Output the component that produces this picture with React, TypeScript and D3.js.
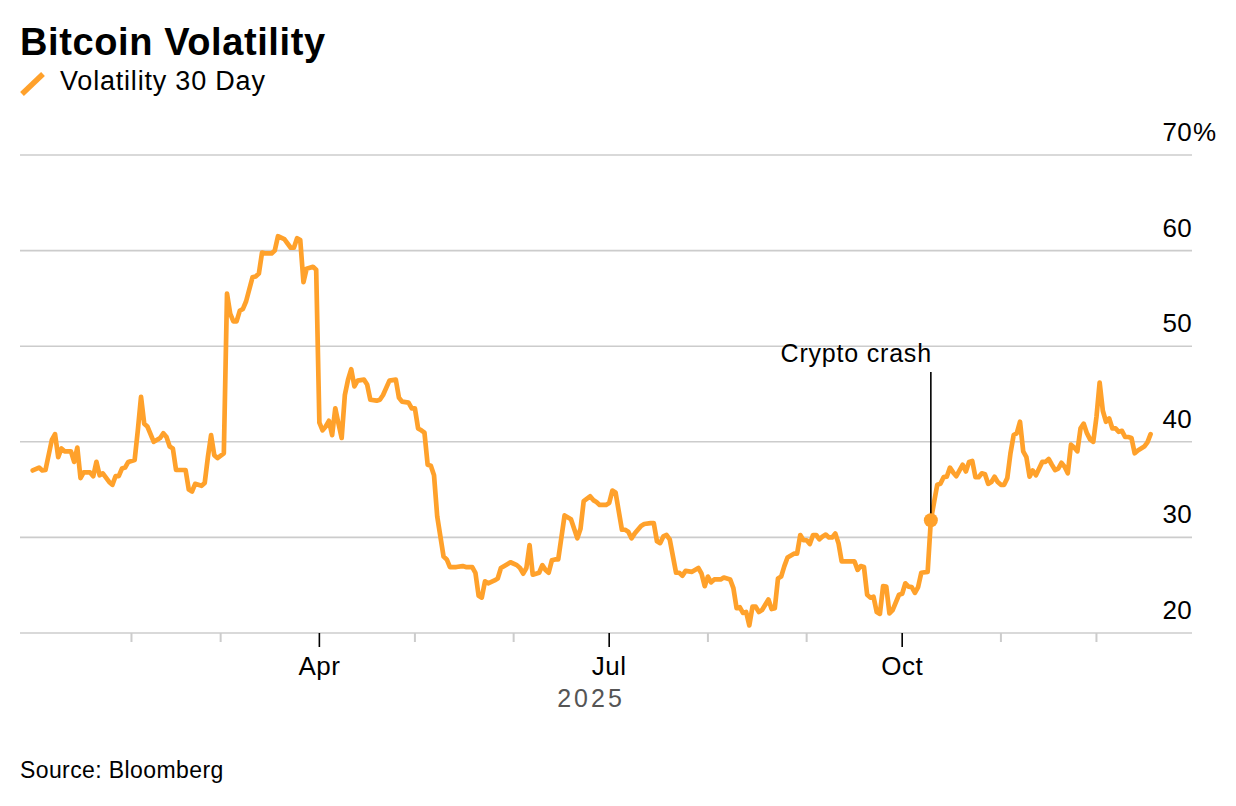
import React from 'react';
import * as d3 from 'd3';

// Bitcoin 30-day volatility, 2025 (%)
const dates = [
  '01-01', '01-03', '01-04', '01-05', '01-07', '01-08', '01-09', '01-10', '01-11', '01-13', '01-14', '01-15', '01-16',
  '01-17', '01-19', '01-20', '01-21', '01-22', '01-23', '01-25', '01-26', '01-27', '01-28', '01-29', '01-30', '01-31',
  '02-02', '02-03', '02-04', '02-05', '02-06', '02-08', '02-10', '02-11', '02-12', '02-13', '02-14', '02-15', '02-17',
  '02-18', '02-19', '02-20', '02-21', '02-23', '02-24', '02-25', '02-26', '02-27', '02-28',
  '03-02', '03-03', '03-04', '03-05', '03-06', '03-07', '03-08', '03-09', '03-11', '03-12', '03-13', '03-14', '03-15',
  '03-17', '03-18', '03-19', '03-21', '03-23', '03-24', '03-25', '03-26', '03-27', '03-28', '03-30', '03-31',
  '04-01', '04-02', '04-03', '04-04', '04-05', '04-06', '04-07', '04-08', '04-09', '04-10', '04-11', '04-12', '04-13',
  '04-15', '04-16', '04-17', '04-19', '04-20', '04-21', '04-23', '04-25', '04-26', '04-27', '04-29', '04-30',
  '05-01', '05-02', '05-03', '05-04', '05-05', '05-06', '05-07', '05-08', '05-10', '05-11', '05-12', '05-14', '05-16',
  '05-17', '05-19', '05-20', '05-21', '05-22', '05-23', '05-24', '05-26', '05-27', '05-28', '05-30', '05-31',
  '06-02', '06-03', '06-04', '06-05', '06-06', '06-07', '06-08', '06-09', '06-10', '06-11', '06-12', '06-13', '06-14',
  '06-15', '06-17', '06-19', '06-21', '06-22', '06-23', '06-25', '06-26', '06-27', '06-28', '06-30',
  '07-01', '07-02', '07-03', '07-05', '07-06', '07-07', '07-08', '07-09', '07-11', '07-12', '07-14', '07-15', '07-16',
  '07-17', '07-18', '07-19', '07-20', '07-22', '07-23', '07-24', '07-25', '07-27', '07-29', '07-30', '07-31',
  '08-01', '08-02', '08-03', '08-05', '08-06', '08-08', '08-09', '08-10', '08-11', '08-12', '08-13', '08-14', '08-15',
  '08-16', '08-17', '08-18', '08-20', '08-21', '08-22', '08-23', '08-24', '08-25', '08-26', '08-28', '08-29', '08-30', '08-31',
  '09-01', '09-02', '09-03', '09-04', '09-05', '09-06', '09-07', '09-08', '09-09', '09-10', '09-11', '09-12', '09-14',
  '09-16', '09-17', '09-18', '09-19', '09-20', '09-21', '09-22', '09-23', '09-24', '09-25', '09-26', '09-27', '09-28', '09-30',
  '10-01', '10-02', '10-03', '10-04', '10-05', '10-06', '10-07', '10-09', '10-10', '10-12', '10-13', '10-14', '10-15',
  '10-16', '10-17', '10-18', '10-19', '10-20', '10-21', '10-22', '10-23', '10-24', '10-25', '10-26', '10-27', '10-28',
  '10-29', '10-30', '10-31',
  '11-01', '11-02', '11-03', '11-04', '11-05', '11-06', '11-07', '11-08', '11-09', '11-10', '11-11', '11-12', '11-13',
  '11-14', '11-15', '11-16', '11-17', '11-18', '11-19', '11-20', '11-21', '11-22', '11-23', '11-24', '11-25', '11-26',
  '11-27', '11-28', '11-29', '11-30',
  '12-01', '12-02', '12-03', '12-04', '12-05', '12-06', '12-07', '12-08', '12-09', '12-10', '12-11', '12-12', '12-13',
  '12-14', '12-16', '12-17', '12-18',
];

const vol30 = [
  37.0, 37.3, 37.0, 37.05, 40.2, 40.8, 38.4, 39.3, 39.0, 39.0, 37.9, 39.4, 36.2,
  36.8, 36.8, 36.4, 37.9, 36.5, 36.7, 35.8, 35.5, 36.4, 36.4, 37.2, 37.3, 37.9,
  38.1, 41.2, 44.7, 41.9, 41.6, 40.0, 40.4, 40.9, 40.5, 39.5, 39.3, 37.05, 37.05,
  37.05, 35.0, 34.8, 35.6, 35.4, 35.7, 38.4, 40.7, 38.6, 38.3,
  38.8, 55.5, 53.4, 52.6, 52.6, 53.7, 53.9, 54.7, 57.2, 57.3, 57.6, 59.8, 59.7,
  59.7, 60.0, 61.5, 61.2, 60.3, 60.3, 61.3, 61.1, 56.7, 58.1, 58.3, 58.0,
  42.0, 41.2, 41.6, 42.2, 40.7, 43.5, 41.9, 40.4, 44.9, 46.5, 47.6, 45.8, 46.4,
  46.5, 46.0, 44.4, 44.3, 44.4, 44.9, 46.4, 46.5, 44.6, 44.2, 44.1, 43.5,
  43.5, 41.4, 41.2, 40.95, 37.6, 37.5, 36.5, 32.2, 28.0, 27.7, 26.9, 26.9, 27.0,
  26.9, 26.9, 26.3, 23.9, 23.7, 25.4, 25.2, 25.5, 25.7, 26.8, 27.2, 27.4,
  27.1, 26.8, 26.2, 26.8, 29.2, 26.1, 26.2, 26.3, 27.1, 26.6, 26.3, 27.6, 27.7,
  27.7, 32.3, 31.9, 29.9, 30.9, 33.8, 34.3, 33.9, 33.7, 33.4, 33.4,
  33.6, 34.9, 34.7, 30.8, 30.8, 30.6, 29.9, 30.4, 31.2, 31.4, 31.5, 31.5, 29.6,
  29.4, 30.1, 30.25, 29.8, 26.3, 26.3, 26.0, 26.5, 26.4, 26.8, 26.2, 24.9,
  25.9, 25.3, 25.6, 25.6, 25.8, 25.6, 24.7, 22.6, 22.7, 22.1, 22.2, 20.8, 22.75,
  22.75, 22.2, 22.4, 23.5, 22.5, 22.6, 25.7, 25.9, 27.0, 27.9, 28.3, 28.3, 30.25, 29.7,
  29.7, 29.3, 30.25, 30.25, 29.8, 30.1, 30.3, 30.0, 30.0, 30.4, 29.4, 27.5, 27.5,
  27.5, 26.6, 27.0, 26.9, 24.0, 23.7, 23.8, 22.2, 22.0, 24.9, 24.85, 22.05, 22.4, 24.0,
  24.1, 25.2, 24.85, 24.8, 24.2, 24.8, 26.3, 26.4, 31.8, 35.5, 35.6, 36.3, 36.35,
  37.3, 36.8, 36.4, 37.0, 37.6, 36.9, 37.9, 38.0, 36.3, 36.3, 36.7, 36.6, 35.6,
  35.8, 36.35, 35.8,
  35.5, 35.5, 36.2, 38.8, 40.7, 40.9, 42.1, 39.0, 38.4, 36.35, 37.0, 36.5, 37.2,
  37.9, 37.9, 38.2, 37.6, 37.05, 37.2, 37.8, 37.4, 36.7, 39.7, 39.4, 39.0, 41.4,
  41.9, 40.9, 40.25, 40.0,
  42.6, 46.2, 43.25, 42.1, 42.45, 41.4, 41.4, 41.05, 41.15, 40.5, 40.5, 40.4, 38.8,
  39.1, 39.5, 39.95, 40.8,
];

const yTicks = [20, 30, 40, 50, 60, 70];
const majorMonths = [3, 6, 9]; // Apr, Jul, Oct
const crashDate = '10-10';
const crashLabel = 'Crypto crash';

const ORANGE = '#FFA12B';
const GRID = '#cccccc';
const FONT = '"Liberation Sans", Arial, Helvetica, sans-serif';

const App: React.FC = () => {
  const parse = d3.timeParse('%Y-%m-%d');
  const data = dates.map((d, i) => ({ date: parse('2025-' + d) as Date, value: vol30[i] }));

  const left = 20;
  const right = 1192;
  const x = d3
    .scaleTime()
    .domain([new Date(2024, 11, 28), new Date(2025, 11, 31)])
    .range([left, right]);
  const y = d3.scaleLinear().domain([20, 70]).range([633, 155]);

  const line = d3
    .line<{ date: Date; value: number }>()
    .x((d) => x(d.date))
    .y((d) => y(d.value));

  const months = d3.timeMonth.range(new Date(2025, 1, 1), new Date(2026, 0, 1));
  const fmt = d3.timeFormat('%b');

  const crash = data.find((d) => d3.timeFormat('%m-%d')(d.date) === crashDate)!;
  const cx = x(crash.date);
  const cy = y(crash.value);

  return (
    <svg
      width={1236}
      height={806}
      style={{ position: 'absolute', left: 0, top: 0, background: '#fff' }}
      fontFamily={FONT}
    >
      <text x={20} y={55} fontSize={38} fontWeight="bold" letterSpacing={0.6} fill="#000">
        Bitcoin Volatility
      </text>
      <line x1={22} y1={94} x2={43} y2={74} stroke={ORANGE} strokeWidth={5.5} />
      <text x={60} y={90} fontSize={27} letterSpacing={0.8} fill="#000">
        Volatility 30 Day
      </text>

      {yTicks.map((t) => (
        <g key={t}>
          <line x1={left} x2={right} y1={y(t)} y2={y(t)} stroke={GRID} strokeWidth={1.6} />
          <text x={right} y={y(t) - 14} fontSize={26} letterSpacing={0.3} textAnchor="end" fill="#000">
            {t}
          </text>
          {t === 70 && (
            <text x={right + 1} y={y(t) - 14} fontSize={26} fill="#000">
              %
            </text>
          )}
        </g>
      ))}

      {months.map((m) => {
        const major = majorMonths.includes(m.getMonth());
        const mx = x(m);
        return (
          <g key={m.getTime()}>
            <line
              x1={mx}
              x2={mx}
              y1={y(20)}
              y2={y(20) + (major ? 14 : 9)}
              stroke={major ? '#000' : GRID}
              strokeWidth={major ? 1.6 : 2}
            />
            {major && (
              <text x={mx} y={675} fontSize={26} letterSpacing={0.5} textAnchor="middle" fill="#000">
                {fmt(m)}
              </text>
            )}
          </g>
        );
      })}
      <text x={591} y={707} fontSize={25} letterSpacing={3} textAnchor="middle" fill="#555">
        2025
      </text>

      <path
        d={line(data) ?? ''}
        fill="none"
        stroke={ORANGE}
        strokeWidth={4.7}
        strokeLinejoin="round"
        strokeLinecap="round"
      />

      <line x1={cx} x2={cx} y1={372} y2={cy} stroke="#000" strokeWidth={1.6} />
      <circle cx={cx} cy={cy} r={7} fill={ORANGE} />
      <text x={cx + 1} y={362} fontSize={25} letterSpacing={0.8} textAnchor="end" fill="#000">
        {crashLabel}
      </text>

      <text x={20} y={778} fontSize={23} letterSpacing={0.4} fill="#000">
        Source: Bloomberg
      </text>
    </svg>
  );
};

export default App;
